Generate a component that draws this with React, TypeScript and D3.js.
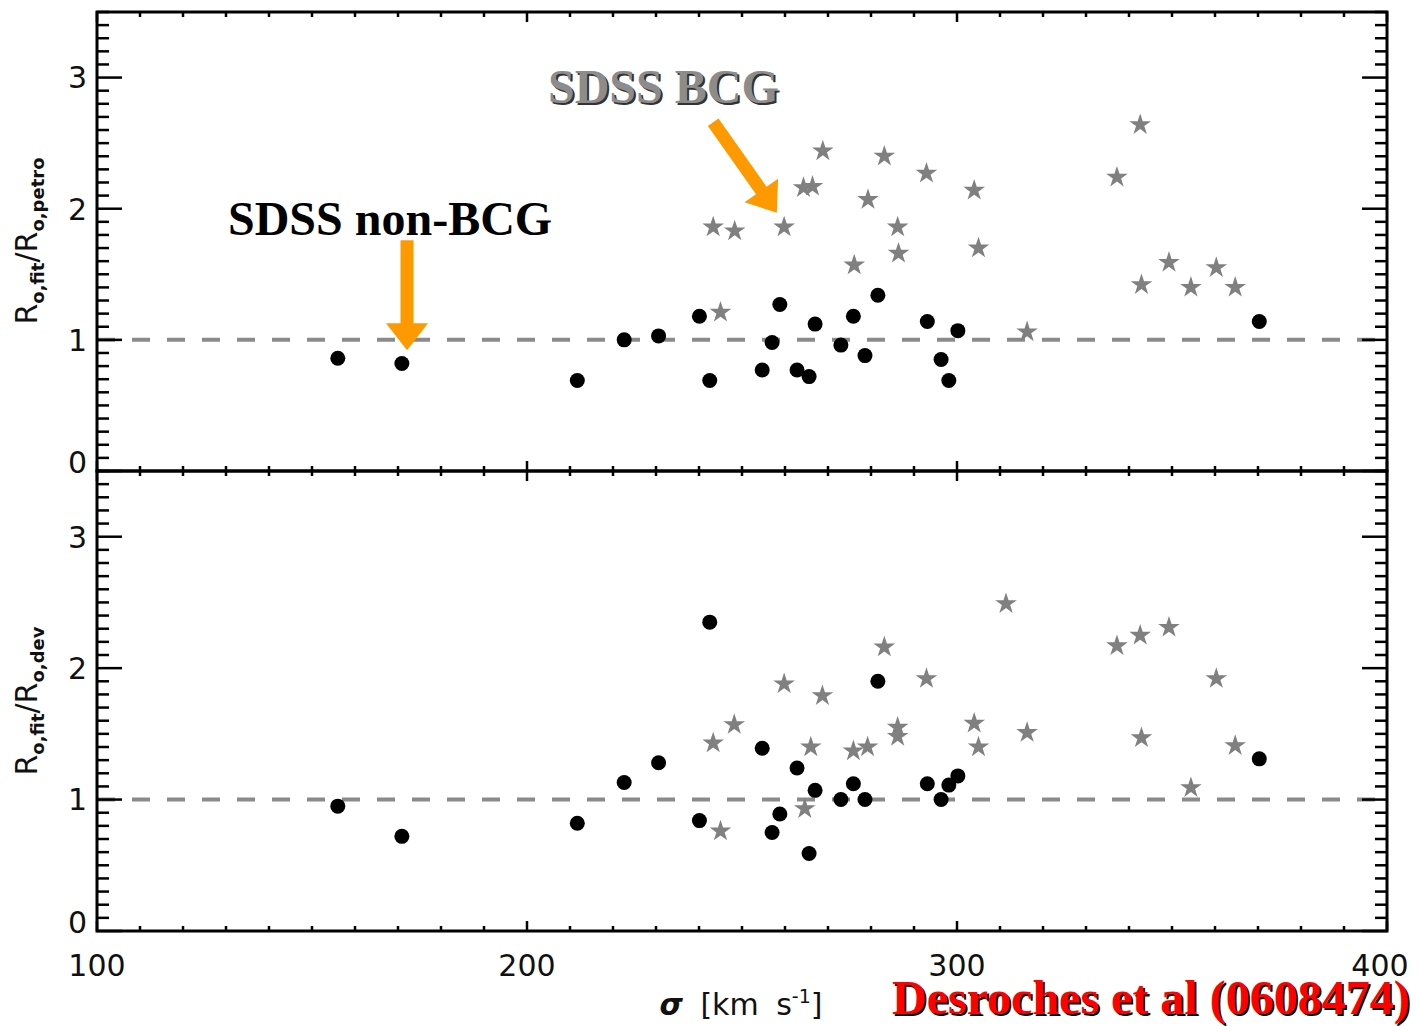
import React from 'react';
import * as d3 from 'd3';

// ---- data ----
const nonBcgSigma = [156.0, 170.9, 211.7, 222.6, 230.6, 240.1, 242.5, 254.7, 257.0, 258.8, 262.8, 265.6, 267.0, 273.0, 275.9, 278.6, 281.6, 293.1, 296.3, 298.1, 300.2, 370.3];
const nonBcgPetro = [0.86, 0.82, 0.69, 1.00, 1.03, 1.18, 0.69, 0.77, 0.98, 1.27, 0.77, 0.72, 1.12, 0.96, 1.18, 0.88, 1.34, 1.14, 0.85, 0.69, 1.07, 1.14];
const nonBcgDev = [0.95, 0.72, 0.82, 1.13, 1.28, 0.84, 2.35, 1.39, 0.75, 0.89, 1.24, 0.59, 1.07, 1.00, 1.12, 1.00, 1.90, 1.12, 1.00, 1.11, 1.18, 1.31];

const bcgPetroSigma = [243.3, 245.0, 248.3, 259.8, 264.3, 266.4, 268.8, 276.1, 279.3, 283.1, 286.2, 286.4, 292.9, 304.0, 305.0, 316.3, 337.2, 342.6, 342.9, 349.3, 354.4, 360.3, 364.7];
const bcgPetro = [1.86, 1.21, 1.83, 1.86, 2.16, 2.17, 2.44, 1.57, 2.07, 2.40, 1.86, 1.66, 2.27, 2.14, 1.70, 1.06, 2.24, 2.64, 1.42, 1.59, 1.40, 1.55, 1.40];

const bcgDevSigma = [243.3, 245.0, 248.2, 259.8, 264.6, 266.0, 268.7, 275.9, 279.2, 283.1, 286.2, 286.2, 292.9, 304.0, 305.0, 311.4, 316.3, 337.2, 342.6, 342.9, 349.3, 354.4, 360.3, 364.7];
const bcgDev = [1.43, 0.76, 1.57, 1.88, 0.93, 1.40, 1.79, 1.37, 1.40, 2.16, 1.55, 1.48, 1.92, 1.58, 1.40, 2.49, 1.51, 2.17, 2.25, 1.47, 2.31, 1.09, 1.92, 1.41];

const xMajorTicks = [100, 200, 300, 400];
const yMajorTicks = [0, 1, 2, 3];
const xDomain = [100, 400];
const yDomain = [0, 3.5];
const referenceRatio = 1;

// arrows in data coordinates (top panel): [sigmaStart, ratioStart, sigmaTip, ratioTip]
const arrowNonBcg = [172.1, 1.76, 172.1, 0.92];
const arrowBcg = [243.3, 2.66, 258.1, 1.97];

const W = 1418;
const H = 1026;
const X0 = 97;
const X1 = 1387;
const panelsPx = [
  { top: 12, bottom: 471 },
  { top: 471, bottom: 931 },
];

const FONT = "'DejaVu Sans', sans-serif";
const SERIF = "'Liberation Serif', 'Times New Roman', serif";
const ORANGE = '#FF9900';
const STAR = '#808080';

function arrowPath(x1: number, y1: number, x2: number, y2: number, shaftW: number, headL: number, headW: number) {
  const dx = x2 - x1, dy = y2 - y1;
  const L = Math.hypot(dx, dy);
  const ux = dx / L, uy = dy / L;
  const px = -uy, py = ux;
  const bx = x2 - ux * headL, by = y2 - uy * headL;
  const p = [
    [x1 + px * shaftW / 2, y1 + py * shaftW / 2],
    [bx + px * shaftW / 2, by + py * shaftW / 2],
    [bx + px * headW / 2, by + py * headW / 2],
    [x2, y2],
    [bx - px * headW / 2, by - py * headW / 2],
    [bx - px * shaftW / 2, by - py * shaftW / 2],
    [x1 - px * shaftW / 2, y1 - py * shaftW / 2],
  ];
  return 'M' + p.map((q) => q.join(',')).join('L') + 'Z';
}

function Panel({ idx, circles, stars, showXLabels }: any) {
  const { top, bottom } = panelsPx[idx];
  const x = d3.scaleLinear().domain(xDomain).range([X0, X1]);
  const y = d3.scaleLinear().domain(yDomain).range([bottom, top]);
  const xMinor = d3.range(100, 401, 10);
  const yMinor = d3.range(0, 36).map((i) => i / 10);
  const star = d3.symbol().type(d3.symbolStar).size(145)();
  const tw = 2.5;
  return (
    <g>
      <line x1={X0} x2={X1} y1={y(referenceRatio)} y2={y(referenceRatio)} stroke="#8a8a8a" strokeWidth={4} strokeDasharray="18 17" />
      {xMinor.map((v) => {
        const major = xMajorTicks.includes(v);
        const len = major ? 10 : 5;
        return (
          <g key={'x' + v}>
            <line x1={x(v)} x2={x(v)} y1={bottom} y2={bottom - len} stroke="#000" strokeWidth={tw} />
            <line x1={x(v)} x2={x(v)} y1={top} y2={top + len} stroke="#000" strokeWidth={tw} />
          </g>
        );
      })}
      {yMinor.map((v) => {
        const major = Math.abs(v - Math.round(v)) < 1e-6;
        const len = major ? 25 : 12;
        return (
          <g key={'y' + v}>
            <line x1={X0} x2={X0 + len} y1={y(v)} y2={y(v)} stroke="#000" strokeWidth={tw} />
            <line x1={X1} x2={X1 - len} y1={y(v)} y2={y(v)} stroke="#000" strokeWidth={tw} />
          </g>
        );
      })}
      <rect x={X0} y={top} width={X1 - X0} height={bottom - top} fill="none" stroke="#000" strokeWidth={3} />
      {yMajorTicks.map((v) => (
        <text key={'yl' + v} x={87} y={y(v) + (v === 0 ? -9 : 0)} dy="0.36em" textAnchor="end" fontFamily={FONT} fontSize={30} fill="#111">
          {v}
        </text>
      ))}
      {showXLabels &&
        xMajorTicks.map((v) => (
          <text key={'xl' + v} x={v === 400 ? x(v) - 7 : x(v)} y={976} textAnchor="middle" fontFamily={FONT} fontSize={30} fill="#111">
            {v}
          </text>
        ))}
      {stars.sigma.map((s: number, i: number) => (
        <path key={'s' + i} d={star as string} transform={`translate(${x(s)},${y(stars.ratio[i])})`} fill={STAR} />
      ))}
      {circles.sigma.map((s: number, i: number) => (
        <circle key={'c' + i} cx={x(s)} cy={y(circles.ratio[i])} r={7.5} fill="#000" />
      ))}
    </g>
  );
}

function YTitle({ cx, cy, sub }: { cx: number; cy: number; sub: string }) {
  return (
    <text transform={`translate(${cx},${cy}) rotate(-90)`} textAnchor="middle" fontFamily={FONT} fontSize={30} fill="#111">
      <tspan>R</tspan>
      <tspan fontSize={18} fontWeight="bold" dy={7}>o,fit</tspan>
      <tspan dy={-7}>/R</tspan>
      <tspan fontSize={18} fontWeight="bold" dy={7}>{sub}</tspan>
    </text>
  );
}

export default function App() {
  const xTop = d3.scaleLinear().domain(xDomain).range([X0, X1]);
  const yTop = d3.scaleLinear().domain(yDomain).range([panelsPx[0].bottom, panelsPx[0].top]);
  const a1 = arrowNonBcg;
  const a2 = arrowBcg;
  return (
    <svg width={W} height={H} style={{ position: 'absolute', left: 0, top: 0, background: '#fff' }}>
      <rect x={0} y={0} width={W} height={H} fill="#fff" />
      <Panel idx={0} circles={{ sigma: nonBcgSigma, ratio: nonBcgPetro }} stars={{ sigma: bcgPetroSigma, ratio: bcgPetro }} showXLabels={false} />
      <Panel idx={1} circles={{ sigma: nonBcgSigma, ratio: nonBcgDev }} stars={{ sigma: bcgDevSigma, ratio: bcgDev }} showXLabels={true} />

      <YTitle cx={37} cy={241} sub="o,petro" />
      <YTitle cx={37} cy={701} sub="o,dev" />

      <text x={741} y={1015} textAnchor="middle" fontFamily={FONT} fontSize={30} fill="#111" wordSpacing={8}>
        <tspan fontStyle="italic" fontWeight="bold">σ</tspan>
        <tspan> [km s</tspan>
        <tspan fontSize={19} dy={-12}>-1</tspan>
        <tspan dy={12}>]</tspan>
      </text>

      <path d={arrowPath(xTop(a1[0]), yTop(a1[1]), xTop(a1[2]), yTop(a1[3]), 13, 27, 42)} fill={ORANGE} />
      <path d={arrowPath(xTop(a2[0]), yTop(a2[1]), xTop(a2[2]), yTop(a2[3]), 13, 27, 41)} fill={ORANGE} />

      <text x={228} y={235} fontFamily={SERIF} fontWeight="bold" fontSize={48} fill="#000">SDSS non-BCG</text>
      <text x={550} y={105} fontFamily={SERIF} fontWeight="bold" fontSize={48} fill="#333">SDSS BCG</text>
      <text x={548} y={103} fontFamily={SERIF} fontWeight="bold" fontSize={48} fill="#8c8c8c">SDSS BCG</text>

      <text x={894} y={1016} fontFamily={SERIF} fontWeight="bold" fontSize={48} fill="#000">Desroches et al (0608474)</text>
      <text x={892} y={1014} fontFamily={SERIF} fontWeight="bold" fontSize={48} fill="#ff0000">Desroches et al (0608474)</text>
    </svg>
  );
}
